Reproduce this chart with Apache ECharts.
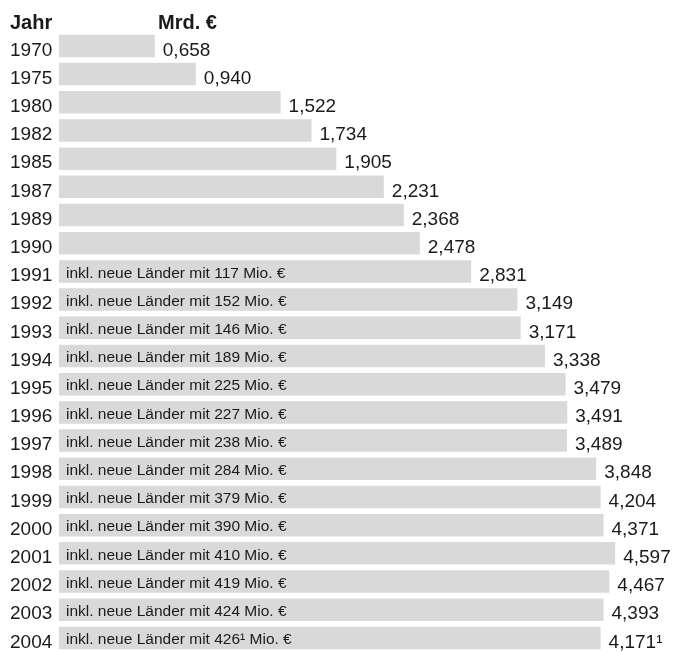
<!DOCTYPE html>
<html>
<head>
<meta charset="utf-8">
<script src="https://cdn.jsdelivr.net/npm/echarts@6/dist/echarts.min.js"></script>
<style>
html,body{margin:0;padding:0;background:#fff;}
#chart{width:674px;height:652px;}
</style>
</head>
<body>
<div id="chart"></div>
<script>
const years = ['1970','1975','1980','1982','1985','1987','1989','1990','1991','1992','1993','1994','1995','1996','1997','1998','1999','2000','2001','2002','2003','2004'];
// values printed at the bar ends (Mrd. €)
const valuesMrd = [0.658,0.940,1.522,1.734,1.905,2.231,2.368,2.478,2.831,3.149,3.171,3.338,3.479,3.491,3.489,3.848,4.204,4.371,4.597,4.467,4.393,4.171];
// drawn bar lengths (same units; the original compresses bars from 1998 on)
const barLengths = [0.658,0.940,1.522,1.734,1.905,2.231,2.368,2.478,2.831,3.149,3.171,3.338,3.479,3.491,3.489,3.69,3.72,3.74,3.82,3.78,3.74,3.72];
// "inkl. neue Länder" amounts (Mio. €)
const neueLaender = [null,null,null,null,null,null,null,null,117,152,146,189,225,227,238,284,379,390,410,419,424,426];
const footnoteYear = '2004';

const FONT = '"Liberation Sans", Arial, sans-serif';
const fmt = v => v.toFixed(3).replace('.', ',');

const chart = echarts.init(document.getElementById('chart'));
chart.setOption({
  animation: false,
  backgroundColor: '#fff',
  grid: { left: 59, width: 611.5, top: 31.8, height: 621.5 },
  xAxis: { type: 'value', min: 0, max: 4.2, show: false },
  yAxis: {
    type: 'category', data: years, inverse: true,
    axisLine: { show: false }, axisTick: { show: false }, splitLine: { show: false },
    axisLabel: {
      align: 'left', margin: 49, color: '#1a1a1a',
      formatter: v => '{y|' + v + '}',
      rich: { y: { fontSize: 19, fontFamily: FONT, color: '#1a1a1a', padding: [9, 0, 0, 0] } }
    }
  },
  series: [
    {
      type: 'bar', data: barLengths, barWidth: 22.5, silent: true,
      itemStyle: { color: '#d9d9d9' },
      label: {
        show: true, position: 'right', distance: 8, offset: [0, 4.5],
        fontSize: 19, color: '#1a1a1a', fontFamily: FONT,
        formatter: p => fmt(valuesMrd[p.dataIndex]) + (years[p.dataIndex] === footnoteYear ? '¹' : '')
      }
    },
    {
      type: 'bar', data: barLengths, barWidth: 22.5, barGap: '-100%', silent: true,
      itemStyle: { color: 'rgba(0,0,0,0)' },
      label: {
        show: true, position: 'insideLeft', distance: 7, offset: [0, 2],
        fontSize: 15.5, color: '#1a1a1a', fontFamily: FONT,
        formatter: p => {
          const n = neueLaender[p.dataIndex];
          if (n == null) return '';
          return 'inkl. neue Länder mit ' + n + (years[p.dataIndex] === footnoteYear ? '¹' : '') + ' Mio. €';
        }
      }
    }
  ],
  graphic: [
    { type: 'text', left: 10, top: 13, style: { text: 'Jahr', font: 'bold 20px ' + FONT, fill: '#1a1a1a' } },
    { type: 'text', left: 158, top: 13, style: { text: 'Mrd. €', font: 'bold 20px ' + FONT, fill: '#1a1a1a' } }
  ]
});
</script>
</body>
</html>
